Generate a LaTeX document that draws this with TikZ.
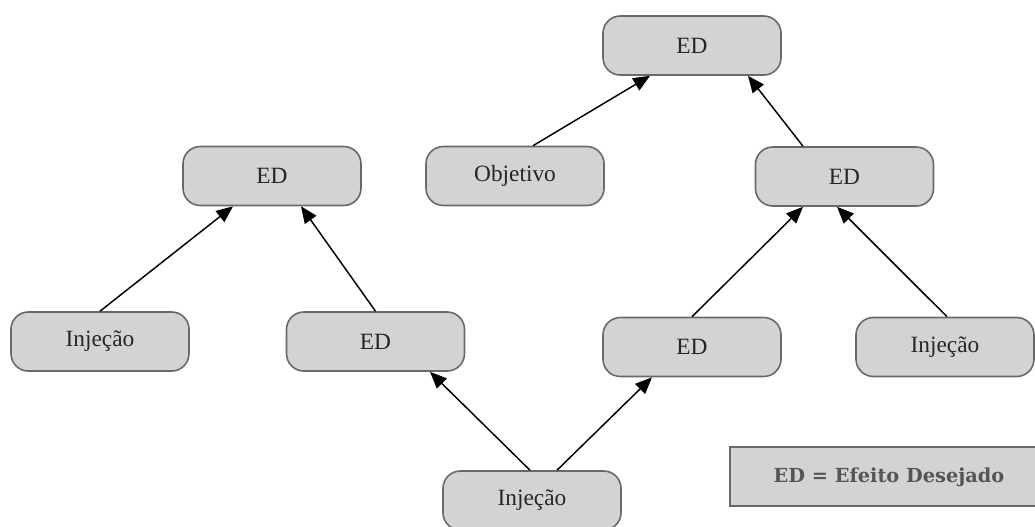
\documentclass[tikz,border=0pt]{standalone}
\usepackage{fontspec}
\setmainfont{Liberation Serif}
\newfontfamily\keyfont{DejaVu Serif}
\usetikzlibrary{arrows.meta,calc}
\definecolor{boxfill}{RGB}{211,211,214}
\definecolor{boxline}{RGB}{105,105,105}
\definecolor{keytext}{RGB}{85,85,85}
\begin{document}
\begin{tikzpicture}[x=0.75pt,y=-0.75pt,
  box/.style={draw=boxline,fill=boxfill,line width=1.2pt,rounded corners=13pt,
    minimum width=133.5pt,minimum height=44.25pt,inner sep=0pt,
    font=\fontsize{17.5}{20}\selectfont,text=black!85},
  keybox/.style={draw=boxline,fill=boxfill,line width=1.2pt,
    minimum width=238.5pt,minimum height=44.25pt,inner sep=0pt},
  arr/.style={line width=1.1pt,-{Triangle[length=12.5pt,width=10.5pt]}}]
\useasboundingbox (0,0) rectangle (1035,526);
\fill[white] (0,0) rectangle (1035,526);

% boxes
\node[box] (edTop) at (692,45.5)  {ED};
\node[box] (obj)   at (515,176)   {Objetivo};
\node[box] (edR)   at (844.5,176.5) {ED};
\node[box] (edL)   at (272,176)   {ED};
\node[box] (injL)  at (100,341.5) {Injeção};
\node[box] (edLM)  at (375.5,341.5) {ED};
\node[box] (edRL)  at (692,347)   {ED};
\node[box] (injR)  at (945,347)   {Injeção};
\node[box] (injB)  at (532,500.5) {Injeção};

% legend
\node[keybox] (key) at (889,476.5) {};
\node[font=\keyfont\bfseries\fontsize{14.5}{16}\selectfont,text=keytext] (keytxt) at (889,477) {ED = Efeito Desejado};

% connectors
\draw[arr] ($(obj.north)+(18,0)$)   -- ($(edTop.south)+(-42,0)$);
\draw[arr] ($(edR.north)+(-41.5,0)$) -- ($(edTop.south)+(56,0)$);
\draw[arr] (edRL.north)              -- ($(edR.south)+(-41.5,0)$);
\draw[arr] ($(injR.north)+(2,0)$)    -- ($(edR.south)+(-7.5,0)$);
\draw[arr] (injL.north)              -- ($(edL.south)+(-39,0)$);
\draw[arr] (edLM.north)              -- ($(edL.south)+(29,0)$);
\draw[arr] ($(injB.north)+(-2,0)$)   -- ($(edLM.south)+(54.5,0)$);
\draw[arr] ($(injB.north)+(25,0)$)   -- ($(edRL.south)+(-40,0)$);
\end{tikzpicture}
\end{document}
